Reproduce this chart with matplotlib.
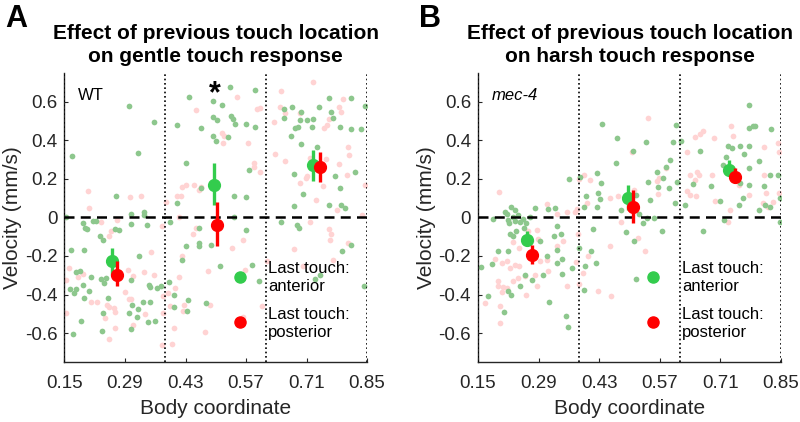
import numpy as np
import matplotlib
matplotlib.use('Agg')
import matplotlib.pyplot as plt

plt.rcParams['font.family'] = ['Liberation Sans', 'DejaVu Sans']
plt.rcParams['axes.unicode_minus'] = False

# body coordinate bins and tick labels
xticks = [0.15, 0.29, 0.43, 0.57, 0.71, 0.85]
xtick_labels = ['0.15', '0.29', '0.43', '0.57', '0.71', '0.85']
yticks = [-0.6, -0.4, -0.2, 0, 0.2, 0.4, 0.6]
ytick_labels = ['-0.6', '-0.4', '-0.2', '0', '0.2', '0.4', '0.6']
bin_edges = [0.15, 0.3833, 0.6167, 0.85]

# panel A (gentle touch, WT) - single trials, (body coordinate, velocity)
a_green = np.array([
    (0.299, 0.576), (0.358, 0.492), (0.167, 0.318), (0.319, 0.335), (0.269, 0.108), (0.304, 0.016),
    (0.334, 0.027), (0.334, 0.013), (0.153, 0.004), (0.192, -0.03), (0.198, -0.053), (0.201, -0.059),
    (0.215, -0.018), (0.224, -0.018), (0.304, -0.032), (0.342, -0.039), (0.232, -0.096), (0.24, -0.116),
    (0.268, -0.059), (0.277, -0.066), (0.164, -0.168), (0.196, -0.168), (0.323, -0.199), (0.176, -0.285),
    (0.186, -0.28), (0.211, -0.308), (0.234, -0.318), (0.245, -0.314), (0.241, -0.34), (0.162, -0.37),
    (0.176, -0.37), (0.172, -0.394), (0.193, -0.353), (0.207, -0.38), (0.305, -0.325), (0.345, -0.353),
    (0.348, -0.363), (0.363, -0.366), (0.373, -0.358), (0.196, -0.418), (0.25, -0.416), (0.307, -0.452),
    (0.321, -0.473), (0.332, -0.439), (0.349, -0.439), (0.24, -0.495), (0.299, -0.495), (0.318, -0.519),
    (0.188, -0.538), (0.344, -0.544), (0.359, -0.538), (0.304, -0.578), (0.170, -0.604), (0.237, -0.59),
    (0.533, 0.676), (0.591, 0.661), (0.437, 0.623), (0.493, 0.602), (0.515, 0.581), (0.494, 0.521),
    (0.502, 0.504), (0.535, 0.526), (0.539, 0.509), (0.545, 0.481), (0.571, 0.485), (0.591, 0.468),
    (0.411, 0.478), (0.466, 0.461), (0.494, 0.423), (0.5, 0.395), (0.529, 0.418), (0.431, 0.28),
    (0.577, 0.245), (0.466, 0.154), (0.41, 0.073), (0.542, 0.113), (0.571, 0.106), (0.542, 0.004),
    (0.394, -0.025), (0.462, -0.056), (0.571, -0.068), (0.431, -0.151), (0.462, -0.151), (0.462, -0.134),
    (0.489, -0.142), (0.423, -0.22), (0.509, -0.254), (0.583, -0.245), (0.601, -0.332), (0.392, -0.335),
    (0.403, -0.401), (0.435, -0.43), (0.433, -0.483), (0.403, -0.464), (0.477, -0.444),
    (0.761, 0.619), (0.812, 0.616), (0.846, 0.578), (0.676, 0.571), (0.657, 0.561), (0.658, 0.516),
    (0.697, 0.547), (0.711, 0.504), (0.725, 0.509), (0.740, 0.571), (0.766, 0.547), (0.771, 0.516),
    (0.694, 0.504), (0.684, 0.461), (0.69, 0.469), (0.722, 0.469), (0.788, 0.469), (0.814, 0.457),
    (0.837, 0.457), (0.674, 0.421), (0.697, 0.378), (0.734, 0.366), (0.682, 0.223), (0.776, 0.216),
    (0.788, 0.154), (0.822, 0.237), (0.701, 0.12), (0.761, 0.065), (0.681, 0.059), (0.79, 0.065),
    (0.799, 0.047), (0.652, -0.022), (0.687, -0.039), (0.693, -0.056), (0.791, -0.177), (0.812, -0.142),
    (0.741, -0.297), (0.729, -0.318), (0.844, -0.357)])

a_pink = np.array([
    (0.205, 0.137), (0.301, 0.106), (0.328, 0.111), (0.207, 0.047), (0.234, -0.025), (0.258, -0.073),
    (0.254, -0.099), (0.271, -0.013), (0.35, -0.182), (0.161, -0.263), (0.182, -0.309), (0.193, -0.292),
    (0.296, -0.271), (0.309, -0.306), (0.334, -0.283), (0.358, -0.297), (0.153, -0.326), (0.29, -0.387),
    (0.30, -0.423), (0.305, -0.421), (0.211, -0.44), (0.225, -0.44), (0.248, -0.452), (0.254, -0.464),
    (0.265, -0.469), (0.153, -0.495), (0.268, -0.49), (0.336, -0.501), (0.308, -0.559), (0.253, -0.633),
    (0.377, -0.495), (0.267, -0.576), (0.244, -0.52),
    (0.454, 0.554), (0.549, 0.623), (0.595, 0.559), (0.603, 0.564), (0.515, 0.435), (0.519, 0.423),
    (0.517, 0.383), (0.575, 0.383), (0.588, 0.28), (0.589, 0.263), (0.603, 0.237), (0.421, 0.159),
    (0.431, 0.168), (0.45, 0.168), (0.465, 0.159), (0.462, 0.142), (0.41, 0.113), (0.419, 0.108),
    (0.385, 0.082), (0.414, 0.004), (0.375, -0.047), (0.455, -0.056), (0.448, -0.087), (0.564, -0.116),
    (0.537, -0.159), (0.421, -0.202), (0.482, -0.28), (0.567, -0.271), (0.415, -0.311), (0.405, -0.366),
    (0.390, -0.392), (0.379, -0.409), (0.427, -0.452), (0.394, -0.461), (0.487, -0.452), (0.424, -0.487),
    (0.404, -0.573), (0.476, -0.594), (0.398, -0.655), (0.375, -0.659), (0.564, -0.518),
    (0.725, 0.702), (0.651, 0.654), (0.795, 0.612), (0.649, 0.573), (0.66, 0.538), (0.694, 0.543),
    (0.635, 0.492), (0.785, 0.571), (0.789, 0.547), (0.762, 0.512), (0.750, 0.461), (0.758, 0.478),
    (0.636, 0.33), (0.66, 0.292), (0.719, 0.306), (0.755, 0.302), (0.807, 0.366), (0.809, 0.323),
    (0.786, 0.275), (0.803, 0.22), (0.711, 0.216), (0.709, 0.206), (0.695, 0.177), (0.749, 0.163),
    (0.733, 0.091), (0.781, 0.039), (0.846, 0.168), (0.838, 0.013), (0.762, -0.059), (0.766, -0.087),
    (0.764, -0.116), (0.719, -0.022), (0.68, -0.163), (0.618, -0.228), (0.805, -0.134), (0.772, -0.22),
    (0.701, -0.254), (0.606, -0.461)])

# panel B (harsh touch, mec-4)
b_green = np.array([
    (0.184, -0.01), (0.212, 0.027), (0.217, 0.016), (0.227, 0.056), (0.235, 0.039), (0.22, -0.013),
    (0.235, -0.018), (0.247, -0.022), (0.232, 0.004), (0.243, 0.013), (0.254, -0.008), (0.262, -0.03),
    (0.27, 0.004), (0.282, 0.047), (0.312, 0.044), (0.328, 0.047), (0.222, -0.03), (0.224, -0.087),
    (0.23, -0.099), (0.256, -0.056), (0.256, -0.108), (0.238, -0.073), (0.326, -0.099), (0.293, -0.122),
    (0.197, -0.173), (0.22, -0.177), (0.332, -0.047), (0.341, -0.087), (0.158, -0.259), (0.183, -0.242),
    (0.309, -0.202), (0.332, -0.168), (0.332, -0.237), (0.345, -0.294), (0.299, -0.297), (0.259, -0.301),
    (0.247, -0.354), (0.226, -0.401), (0.22, -0.38), (0.174, -0.406), (0.274, -0.323), (0.315, -0.44),
    (0.209, -0.492), (0.353, -0.509), (0.359, -0.57), (0.361, 0.197),
    (0.437, 0.483), (0.472, 0.413), (0.537, 0.392), (0.507, 0.344), (0.601, 0.392), (0.469, 0.28),
    (0.385, 0.211), (0.424, 0.232), (0.434, 0.177), (0.4, 0.111), (0.427, 0.125), (0.431, 0.094),
    (0.395, 0.056), (0.425, 0.056), (0.48, 0.039), (0.497, 0.099), (0.515, 0.116), (0.547, 0.09),
    (0.542, 0.182), (0.563, 0.237), (0.565, 0.159), (0.578, 0.202), (0.592, 0.151), (0.585, 0.263),
    (0.522, 0.016), (0.532, -0.03), (0.541, -0.004), (0.557, -0.004), (0.575, -0.07), (0.493, -0.077),
    (0.511, -0.125), (0.415, -0.059), (0.384, -0.159), (0.41, -0.177), (0.423, -0.237), (0.397, -0.254),
    (0.368, -0.263), (0.344, -0.215), (0.395, -0.378), (0.515, -0.32), (0.607, 0.478), (0.618, 0.395),
    (0.593, 0.297), (0.609, 0.181), (0.605, 0.073),
    (0.777, 0.581), (0.775, 0.464), (0.786, 0.475), (0.791, 0.475), (0.827, 0.457), (0.663, 0.344),
    (0.728, 0.37), (0.736, 0.358), (0.755, 0.37), (0.775, 0.37), (0.764, 0.327), (0.724, 0.315),
    (0.716, 0.271), (0.775, 0.258), (0.800, 0.292), (0.825, 0.22), (0.842, 0.22), (0.646, 0.171),
    (0.688, 0.164), (0.755, 0.177), (0.775, 0.168), (0.81, 0.164), (0.628, 0.065), (0.708, 0.085),
    (0.762, 0.099), (0.753, 0.065), (0.813, 0.065), (0.825, 0.051), (0.798, 0.039), (0.848, 0.099),
    (0.718, -0.013), (0.848, -0.022), (0.670, -0.073)])

b_pink = np.array([
    (0.199, 0.133), (0.309, 0.068), (0.333, 0.016), (0.355, 0.03), (0.286, -0.065), (0.288, -0.111),
    (0.266, -0.07), (0.23, -0.13), (0.245, -0.159), (0.259, -0.122), (0.272, -0.125), (0.189, -0.216),
    (0.205, -0.237), (0.216, -0.228), (0.235, -0.245), (0.245, -0.254), (0.293, -0.228), (0.309, -0.22),
    (0.332, -0.151), (0.347, -0.125), (0.224, -0.263), (0.232, -0.332), (0.243, -0.314), (0.259, -0.306),
    (0.282, -0.297), (0.311, -0.28), (0.197, -0.332), (0.197, -0.357), (0.207, -0.363), (0.216, -0.366),
    (0.261, -0.404), (0.287, -0.357), (0.205, -0.388), (0.166, -0.444), (0.201, -0.457), (0.201, -0.547),
    (0.355, -0.357),
    (0.542, 0.516), (0.506, 0.337), (0.396, 0.22), (0.408, 0.194), (0.383, 0.197), (0.563, 0.189),
    (0.567, 0.206), (0.565, 0.12), (0.454, 0.099), (0.474, 0.108), (0.51, 0.142), (0.401, 0.072),
    (0.374, 0.027), (0.379, 0.044), (0.48, -0.022), (0.519, -0.108), (0.535, -0.177), (0.454, -0.151),
    (0.382, -0.087), (0.405, -0.202), (0.376, -0.232), (0.393, -0.289), (0.384, -0.345), (0.427, -0.383),
    (0.458, -0.409),
    (0.734, 0.475), (0.669, 0.447), (0.663, 0.43), (0.651, 0.418), (0.695, 0.413), (0.738, 0.421),
    (0.81, 0.366), (0.843, 0.383), (0.845, 0.337), (0.632, 0.34), (0.584, 0.254), (0.639, 0.22),
    (0.655, 0.237), (0.661, 0.22), (0.651, 0.194), (0.69, 0.22), (0.633, 0.134), (0.639, 0.116),
    (0.653, 0.108), (0.754, 0.168), (0.775, 0.116), (0.81, 0.22), (0.816, 0.125), (0.845, 0.125),
    (0.832, 0.082), (0.808, 0.073), (0.697, 0.085), (0.731, 0.039), (0.727, -0.022), (0.82, 0.051)])

# bin means with error bars (last touch anterior = green, posterior = red)
a_green_pos = [0.259, 0.496, 0.726]
a_green_mean = [-0.228, 0.168, 0.271]
a_green_lo = [-0.297, 0.065, 0.189]
a_green_hi = [-0.158, 0.28, 0.349]
a_red_pos = [0.272, 0.504, 0.741]
a_red_mean = [-0.297, -0.039, 0.259]
a_red_lo = [-0.357, -0.151, 0.183]
a_red_hi = [-0.225, 0.082, 0.34]

b_green_pos = [0.2625, 0.497, 0.73]
b_green_mean = [-0.116, 0.099, 0.245]
b_green_lo = [-0.15, 0.039, 0.22]
b_green_hi = [-0.073, 0.168, 0.297]
b_red_pos = [0.275, 0.509, 0.744]
b_red_mean = [-0.194, 0.056, 0.211]
b_red_lo = [-0.242, -0.03, 0.177]
b_red_hi = [-0.142, 0.142, 0.254]

scat_green = '#8dc78d'
scat_pink = '#ffd3d3'
mean_green = '#33cc4d'
mean_red = '#ff0000'
axcol = '#262626'

fig = plt.figure(figsize=(8, 4.22), dpi=100)
axA = fig.add_axes([0.0806, 0.142, 0.3782, 0.686])
axB = fig.add_axes([0.5975, 0.142, 0.3788, 0.686])


def draw_panel(ax, green, pink, gpos, gm, glo, ghi, rpos, rm, rlo, rhi, title, tag, tag_style):
    ax.scatter(pink[:, 0], pink[:, 1], s=17, color=scat_pink, linewidths=0, zorder=2)
    ax.scatter(green[:, 0], green[:, 1], s=17, color=scat_green, linewidths=0, zorder=2)
    ax.axhline(0, color='black', lw=1.8, ls=(0, (4, 2.5)), zorder=3)
    for xe in bin_edges:
        ax.axvline(xe, color='black', lw=1.2, ls=(0, (1, 1.6)), zorder=3)
    # means + error bars
    ax.vlines(gpos, glo, ghi, color=mean_green, lw=2.4, zorder=4)
    ax.plot(gpos, gm, 'o', color=mean_green, ms=8.5, zorder=5)
    ax.vlines(rpos, rlo, rhi, color=mean_red, lw=2.4, zorder=6)
    ax.plot(rpos, rm, 'o', color=mean_red, ms=8.5, zorder=7)
    # legend
    ax.plot([0.555], [-0.307], 'o', color=mean_green, ms=8, zorder=5)
    ax.plot([0.555], [-0.54], 'o', color=mean_red, ms=8, zorder=5)
    ax.text(0.621, -0.313, 'Last touch:\nanterior', fontsize=12, va='center', ha='left',
            linespacing=1.25, zorder=8)
    ax.text(0.621, -0.548, 'Last touch:\nposterior', fontsize=12, va='center', ha='left',
            linespacing=1.25, zorder=8)
    ax.text(0.181, 0.633, tag, fontsize=12, style=tag_style, va='center', ha='left')

    ax.set_xlim(0.15, 0.85)
    ax.set_ylim(-0.75, 0.75)
    ax.set_xticks(xticks)
    ax.set_xticklabels(xtick_labels)
    ax.set_yticks(yticks)
    ax.set_yticklabels(ytick_labels)
    ax.tick_params(direction='in', length=3, labelsize=13.5, colors=axcol, width=0.8)
    ax.tick_params(axis='x', pad=9)
    ax.tick_params(axis='y', pad=5)
    for s in ['top', 'right']:
        ax.spines[s].set_visible(False)
    for s in ['left', 'bottom']:
        ax.spines[s].set_color(axcol)
        ax.spines[s].set_linewidth(1.0)
    ax.set_xlabel('Body coordinate', fontsize=15, color=axcol)
    ax.set_ylabel('Velocity (mm/s)', fontsize=15, color=axcol)
    ax.xaxis.set_label_coords(0.5, -0.128)
    ax.yaxis.set_label_coords(-0.14, 0.5)
    ax.set_title(title, fontsize=15, fontweight='bold', linespacing=1.25, pad=7.5)


draw_panel(axA, a_green, a_pink, a_green_pos, a_green_mean, a_green_lo, a_green_hi,
           a_red_pos, a_red_mean, a_red_lo, a_red_hi,
           'Effect of previous touch location\non gentle touch response', 'WT', 'normal')
draw_panel(axB, b_green, b_pink, b_green_pos, b_green_mean, b_green_lo, b_green_hi,
           b_red_pos, b_red_mean, b_red_lo, b_red_hi,
           'Effect of previous touch location\non harsh touch response', 'mec-4', 'italic')

# significance star above middle bin of panel A
axA.text(0.498, 0.64, '*', fontsize=22, fontweight='bold', ha='center', va='center')

fig.text(0.006, 0.936, 'A', fontsize=22, fontweight='bold', va='baseline')
fig.text(0.524, 0.936, 'B', fontsize=22, fontweight='bold', va='baseline')

fig.savefig('out.png', dpi=100)
